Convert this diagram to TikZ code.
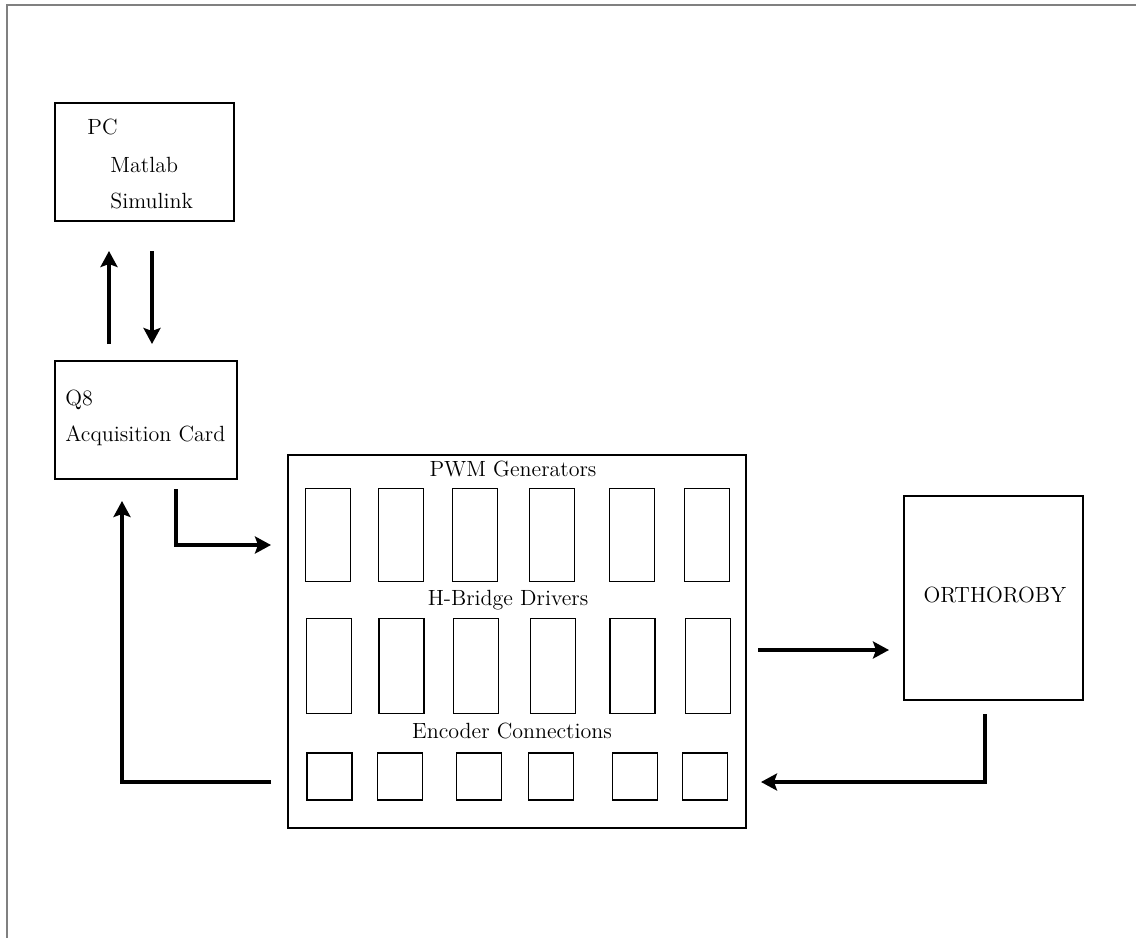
\documentclass[tikz,border=0pt]{standalone}
\usepackage{tikz}
\usetikzlibrary{arrows.meta,positioning,calc}

\begin{document}
\begin{tikzpicture}[x=0.5pt,y=-0.5pt,
    box/.style={draw, line width=1pt, inner sep=0pt},
    cell/.style={draw, line width=0.9pt, inner sep=0pt, minimum width=22.5pt},
    txt/.style={font=\fontsize{11}{13}\selectfont, inner sep=0pt},
    arr/.style={-{Stealth[length=8pt,width=8.5pt,inset=1.5pt]}, line width=1.6pt}]
                    \useasboundingbox (0,0) rectangle (1136,938);
                    % Outer frame
                    \draw[gray, line width=0.6pt] (1136,5) -- (7,5) -- (7,938);

                    % PC and Q8 card
                    \node[box, minimum width=89.5pt, minimum height=59pt] (pc) at (144.5,162) {};
                    \node[txt, anchor=west] (pcname) at (87,127) {PC};
                    \node[txt, anchor=west] (matlab) at (110,165) {Matlab};
                    \node[txt, anchor=west] (simulink) at (110,201) {Simulink};

                    \node[box, minimum width=91pt, minimum height=59pt] (q8) at (146,420) {};
                    \node[txt, anchor=west] (q8name) at (65,400) {Q8};
                    \node[txt, anchor=west] (acq) at (65,436) {Acquisition Card};

                    % Driver board
                    \node[box, minimum width=229pt, minimum height=186.5pt] (panel) at (517,641.5) {};
                    \node[txt] (pwmlbl) at (513,469) {PWM Generators};
                    \node[txt] (hblbl) at (508,600) {H-Bridge Drivers};
                    \node[txt] (enclbl) at (512,731) {Encoder Connections};

                    \foreach \x [count=\i] in {328,401,475,552,632,707}
                        \node[cell, minimum height=46.5pt] (pwm\i) at (\x,535) {};
                    \foreach \x [count=\i] in {329,401.5,476,553,632.5,708}
                        \node[cell, minimum height=47.5pt] (hb\i) at (\x,666) {};
                    \foreach \x [count=\i] in {329.5,400,479,551,635,705}
                        \node[cell, minimum height=23.5pt] (enc\i) at (\x,776.5) {};

                    % Robot
                    \node[box, minimum width=89.5pt, minimum height=102pt] (robot) at (993.5,598) {};
                    \node[txt] (robotlbl) at (995,595) {ORTHOROBY};

                    % PC <-> Q8
                    \draw[arr] ($(q8.north west)+(55,-16)$) -- ($(pc.south west)+(55,29)$);
                    \draw[arr] ($(pc.south west)+(98,29)$) -- ($(q8.north west)+(98,-16)$);

                    % Q8 <-> board
                    \draw[arr] ($(q8.south west)+(122,9)$) |- ($(panel.north west)+(-16,91)$);
                    \draw[arr] ($(panel.south west)+(-16,-47)$) -| ($(q8.south west)+(68,21)$);

                    % board <-> robot
                    \draw[arr] ($(panel.east)+(11,8.5)$) -- ($(robot.west)+(-14,52)$);
                    \draw[arr] ($(robot.south)+(-8.5,13)$) |- ($(panel.south east)+(14,-47)$);
                \end{tikzpicture}
\end{document}
